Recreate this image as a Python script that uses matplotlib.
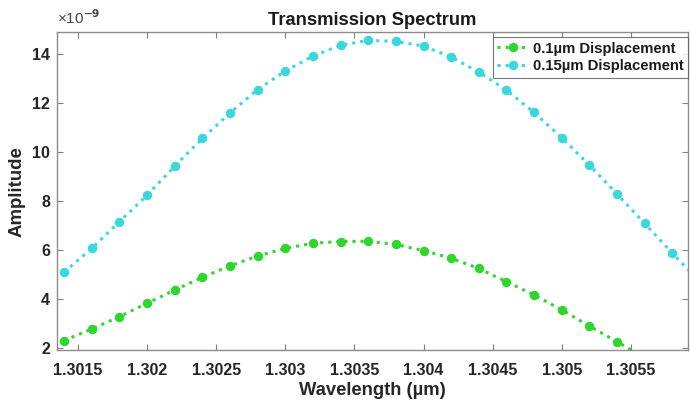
import matplotlib
matplotlib.use("Agg")
import matplotlib.pyplot as plt
import numpy as np

plt.rcParams['font.family'] = ['Liberation Sans', 'DejaVu Sans']
plt.rcParams['font.weight'] = 'bold'

# wavelength samples (µm)
wl_green = [1.3014, 1.3016, 1.3018, 1.3020, 1.3022, 1.3024, 1.3026, 1.3028,
            1.3030, 1.3032, 1.3034, 1.3036, 1.3038, 1.3040, 1.3042, 1.3044,
            1.3046, 1.3048, 1.3050, 1.3052, 1.3054, 1.3056]
amp_green = [2.29, 2.76, 3.26, 3.81, 4.35, 4.87, 5.34, 5.74,
             6.05, 6.26, 6.33, 6.34, 6.21, 5.96, 5.65, 5.23,
             4.69, 4.15, 3.54, 2.88, 2.24, 1.58]

wl_cyan = [1.3014, 1.3016, 1.3018, 1.3020, 1.3022, 1.3024, 1.3026, 1.3028,
           1.3030, 1.3032, 1.3034, 1.3036, 1.3038, 1.3040, 1.3042, 1.3044,
           1.3046, 1.3048, 1.3050, 1.3052, 1.3054, 1.3056, 1.3058, 1.3060]
amp_cyan = [5.08, 6.05, 7.14, 8.22, 9.41, 10.54, 11.58, 12.53,
            13.29, 13.90, 14.34, 14.54, 14.50, 14.31, 13.86, 13.25,
            12.51, 11.60, 10.57, 9.45, 8.27, 7.07, 5.85, 4.70]

labels = ['0.1µm Displacement', '0.15µm Displacement']
xticks = [1.3015, 1.3020, 1.3025, 1.3030, 1.3035, 1.3040, 1.3045, 1.3050, 1.3055]
xticklabels = ['1.3015', '1.302', '1.3025', '1.303', '1.3035', '1.304', '1.3045', '1.305', '1.3055']
yticks = [2, 4, 6, 8, 10, 12, 14]

fig = plt.figure(figsize=(6.9, 4.08), dpi=100)
ax = fig.add_axes([0.0826, 0.142, 0.9144, 0.7794])

green = '#2ed62e'
cyan = '#3ad8dc'
ax.plot(wl_green, amp_green, linestyle=':', color=green, linewidth=2.2,
        marker='o', markersize=5.8, markerfacecolor=green, markeredgecolor=green,
        label=labels[0])
ax.plot(wl_cyan, amp_cyan, linestyle=':', color=cyan, linewidth=2.2,
        marker='o', markersize=5.8, markerfacecolor=cyan, markeredgecolor=cyan,
        label=labels[1])

ax.set_xlim(1.3013485, 1.305913)
ax.set_ylim(1.9, 14.88)
ax.set_xticks(xticks)
ax.set_xticklabels(xticklabels)
ax.set_yticks(yticks)

ax.tick_params(direction='in', top=True, right=True, length=4, width=0.8,
               colors='#808080', labelcolor='#262626', labelsize=11.5)
ax.tick_params(axis='x', pad=9)
ax.tick_params(axis='y', pad=5)
for lab in ax.get_xticklabels() + ax.get_yticklabels():
    lab.set_fontweight('bold')
for s in ax.spines.values():
    s.set_color('#8c8c8c')
    s.set_linewidth(1.0)

ax.set_xlabel('Wavelength (µm)', fontsize=13.2, fontweight='bold', color='#262626', labelpad=3)
ax.set_ylabel('Amplitude', fontsize=13.4, fontweight='bold', color='#262626', labelpad=5)
ax.set_title('Transmission Spectrum', fontsize=13.2, fontweight='bold', color='#1a1a1a', pad=5)
ax.text(0.0, 1.015, '×10$^{-9}$', transform=ax.transAxes, fontsize=11,
        fontweight='normal', color='#444444', ha='left', va='bottom')

leg = ax.legend(loc='upper right', fontsize=10.7, frameon=True, fancybox=False,
                edgecolor='#555555', borderpad=0.3, labelspacing=0.25,
                handlelength=2.1, handletextpad=0.3, borderaxespad=0.0,
                bbox_to_anchor=(1.0, 1 - 5 / 318))
leg.get_frame().set_linewidth(0.8)
for t in leg.get_texts():
    t.set_fontweight('bold')
    t.set_color('#1a1a1a')

fig.savefig('out.png', dpi=100)
